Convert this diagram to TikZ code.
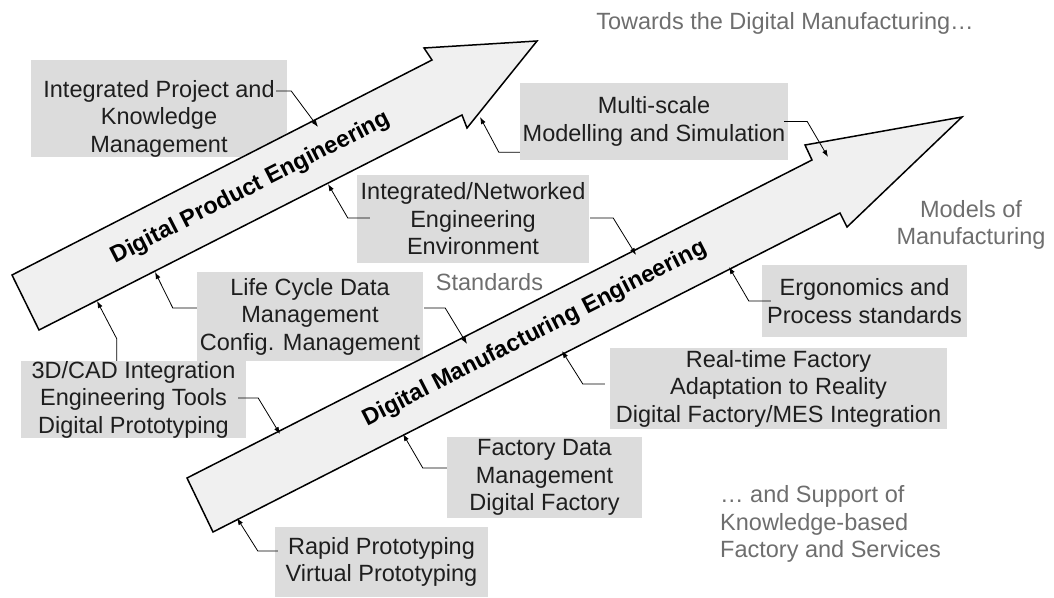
\documentclass[tikz,border=0pt]{standalone}
\usepackage{fontspec}
\setmainfont{Liberation Sans}
\usetikzlibrary{arrows.meta,calc,positioning}

\definecolor{boxgray}{RGB}{220,220,220}
\definecolor{arrowgray}{RGB}{240,240,240}
\definecolor{notegray}{RGB}{110,110,110}
\definecolor{inkgray}{RGB}{30,30,30}

\newcommand{\labelfont}{\fontsize{23.5}{27.5}\selectfont}

\tikzset{
  itembox/.style={fill=boxgray, text=inkgray, align=center, font=\labelfont, inner sep=0pt},
  note/.style={text=notegray, font=\labelfont},
  bigarrow/.style={draw=black, fill=arrowgray, line width=1.5pt, line join=miter},
  arrowtitle/.style={font=\labelfont\bfseries, text=black, rotate=27.05},
  link/.style={draw=black, line width=0.8pt, -{Latex[length=7pt,width=5pt]}},
}

\begin{document}
\begin{tikzpicture}[x=1pt, y=-1pt] % 1pt per pixel, y downwards
\useasboundingbox (0,0) rectangle (1054,597);

% Boxes
\node[itembox, minimum width=256pt, anchor=north] (ipk) at (159,60) {\rule{0pt}{37pt}Integrated Project and\\Knowledge\\Management};
\node[itembox, minimum width=268pt, minimum height=77pt] (msm) at (654,121.5) {Multi-scale\\Modelling and Simulation};
\node[itembox, minimum width=232pt, minimum height=88pt] (ine) at (473,219) {Integrated/Networked\\Engineering\\Environment};
\node[itembox, minimum width=226pt, minimum height=89pt] (lcd) at (310,316.5) {Life Cycle Data\\Management\\Config. Management};
\node[itembox, minimum width=225pt, minimum height=75pt] (cad) at (133.5,399.5) {3D/CAD Integration\\Engineering Tools\\Digital Prototyping};
\node[itembox, minimum width=213pt, minimum height=70pt] (rap) at (381.5,562) {Rapid Prototyping\\Virtual Prototyping};
\node[itembox, minimum width=195pt, minimum height=81pt] (fdm) at (544.5,477.5) {Factory Data\\Management\\Digital Factory};
\node[itembox, minimum width=205pt, minimum height=72pt] (erg) at (864.5,301) {Ergonomics and\\Process standards};
\node[itembox, minimum width=337pt, minimum height=81pt] (rtf) at (778.5,388.5) {Real-time Factory\\Adaptation to Reality\\Digital Factory/MES Integration};

% Arrows
\draw[bigarrow] (12,275) -- (432,60) -- (424,48) -- (537,41) -- (467,128) -- (462,115) -- (39,330) -- cycle;
\draw[bigarrow] (187,478) -- (812,160) -- (805,145) -- (962,117) -- (847,227) -- (840,213) -- (213,532) -- cycle;
\node[arrowtitle] (dpe) at (251,188) {Digital Product Engineering};
\node[arrowtitle] (dme) at (535,334) {Digital Manufacturing Engineering};

% Notes
\node[note] (towards) at (785,23) {Towards the Digital Manufacturing…};
\node[note, align=center] (models) at (971,225) {Models of\\Manufacturing};
\node[note] (stds) at (489.5,282) {Standards};
\node[note, align=left, anchor=west, inner sep=0pt] (support) at (720,524) {… and Support of\\Knowledge-based\\Factory and Services};

% Connector ends on the arrows
\coordinate (dpe-in1) at (318,127);
\coordinate (dpe-in2) at (480,117);
\coordinate (dpe-in3) at (328,184);
\coordinate (dpe-in4) at (155,272);
\coordinate (dpe-in5) at (97,301);
\coordinate (dme-in1) at (828,157);
\coordinate (dme-in2) at (636,255);
\coordinate (dme-in3) at (467,344);
\coordinate (dme-in4) at (280,434);
\coordinate (dme-in5) at (237,518);
\coordinate (dme-in6) at (403,434);
\coordinate (dme-in7) at (562,351);
\coordinate (dme-in8) at (729,267);

% Connectors
\draw[link] ($(ipk.north east)+(-11,31)$) -- ++(15,0) -- (dpe-in1);
\draw[link] ($(msm.south west)+(0,-8)$) -- ++(-21,0) -- (dpe-in2);
\draw[link] ($(msm.east)+(-4,0)$) -- ++(23,0) -- (dme-in1);
\draw[link] ($(ine.west)+(13,-1)$) -- ++(-22,0) -- (dpe-in3);
\draw[link] ($(ine.east)+(1,-1)$) -- ++(23,0) -- (dme-in2);
\draw[link] ($(lcd.west)+(0,-8.5)$) -- ++(-24,0) -- (dpe-in4);
\draw[link] ($(lcd.east)+(1,-8.5)$) -- ++(21,0) -- (dme-in3);
\draw[link] ($(cad.north west)+(96,0)$) -- ++(0,-22) -- (dpe-in5);
\draw[link] ($(cad.east)+(-8,-1.5)$) -- ++(20,0) -- (dme-in4);
\draw[link] ($(rap.west)+(3,-11)$) -- ++(-20,0) -- (dme-in5);
\draw[link] ($(fdm.west)+(0,-9.5)$) -- ++(-24,0) -- (dme-in6);
\draw[link] ($(rtf.west)+(-5,-4.5)$) -- ++(-22,0) -- (dme-in7);
\draw[link] ($(erg.west)+(9,0)$) -- ++(-22,0) -- (dme-in8);
\end{tikzpicture}
\end{document}
